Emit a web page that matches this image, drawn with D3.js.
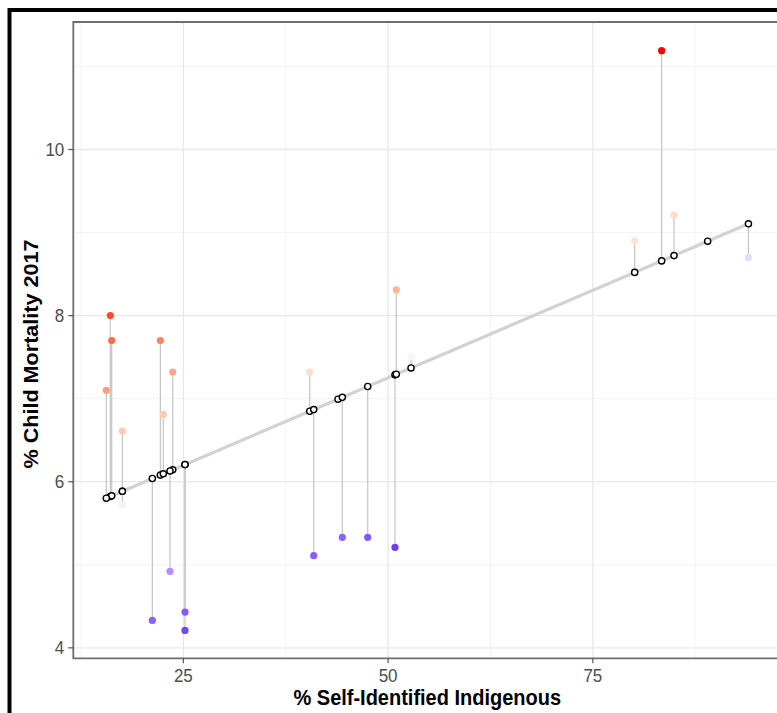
<!DOCTYPE html>
<html>
<head>
<meta charset="utf-8">
<script src="https://cdn.jsdelivr.net/npm/d3@7"></script>
<style>
  html, body { margin: 0; padding: 0; background: #fff; overflow: hidden; }
  svg { display: block; }
  text { font-family: "Liberation Sans", Arial, Helvetica, sans-serif; }
</style>
</head>
<body>
<svg id="chart" width="777" height="713"></svg>
<script>
// % self-identified indigenous (x) and % child mortality 2017 (y)
const pctIndigenous = [16.08, 16.25, 15.59, 17.55, 17.55,
                       22.19, 22.55, 23.70, 23.37, 21.21, 25.20, 25.20,
                       40.43, 40.92, 43.88, 44.41, 47.51, 50.84, 51.00, 52.80,
                       80.11, 83.40, 84.91, 89.02, 94.00];
const childMortality = [8.00, 7.70, 7.10, 6.61, 5.72,
                        7.70, 6.81, 7.32, 4.92, 4.33, 4.43, 4.21,
                        7.32, 5.11, 6.98, 5.33, 5.33, 5.21, 8.31, 7.51,
                        8.90, 11.19, 9.21, 8.90, 8.70];
const xTicks = [25, 50, 75];
const xMinorTicks = [12.5, 37.5, 62.5, 87.5];
const yTicks = [4, 6, 8, 10];
const yMinorTicks = [5, 7, 9, 11];
const xTitle = "% Self-Identified Indigenous";
const yTitle = "% Child Mortality 2017";

const data = pctIndigenous.map((x, i) => ({ x, y: childMortality[i] }));

// least squares fit (geom_smooth method = "lm")
const mx = d3.mean(data, d => d.x), my = d3.mean(data, d => d.y);
const slope = d3.sum(data, d => (d.x - mx) * (d.y - my)) / d3.sum(data, d => (d.x - mx) ** 2);
const intercept = my - slope * mx;
data.forEach(d => { d.fit = intercept + slope * d.x; d.res = d.y - d.fit; });
const M = d3.max(data, d => Math.abs(d.res));

const svg = d3.select("#chart");
const P = { left: 73.3, right: 781.2, top: 22, bottom: 658.3 };

const x = d3.scaleLinear().domain([11.56, 98.0]).range([P.left, P.right]);
const y = d3.scaleLinear().domain([3.874, 11.535]).range([P.bottom, P.top]);
const color = d3.scaleLinear().domain([-M, 0, M]).range(["blue", "white", "red"]).interpolate(d3.interpolateLab);

// outer frame (only the top and left edges fall inside the picture)
svg.append("path").attr("d", "M9.5,800 L9.5,10 L800,10")
  .attr("fill", "none").attr("stroke", "#000").attr("stroke-width", 4);

const g = svg.append("g");
const clip = svg.append("clipPath").attr("id", "clip");
clip.append("rect").attr("x", P.left).attr("y", P.top).attr("width", P.right - P.left).attr("height", P.bottom - P.top);
const panel = g.append("g").attr("clip-path", "url(#clip)");

// grid
panel.selectAll(".xminor").data(xMinorTicks).join("line")
  .attr("x1", d => x(d)).attr("x2", d => x(d)).attr("y1", P.top).attr("y2", P.bottom)
  .attr("stroke", "#f0f0f0").attr("stroke-width", 0.8);
panel.selectAll(".yminor").data(yMinorTicks).join("line")
  .attr("y1", d => y(d)).attr("y2", d => y(d)).attr("x1", P.left).attr("x2", P.right)
  .attr("stroke", "#f0f0f0").attr("stroke-width", 0.8);
panel.selectAll(".xmajor").data(xTicks).join("line")
  .attr("x1", d => x(d)).attr("x2", d => x(d)).attr("y1", P.top).attr("y2", P.bottom)
  .attr("stroke", "#e8e8e8").attr("stroke-width", 1.3);
panel.selectAll(".ymajor").data(yTicks).join("line")
  .attr("y1", d => y(d)).attr("y2", d => y(d)).attr("x1", P.left).attr("x2", P.right)
  .attr("stroke", "#e8e8e8").attr("stroke-width", 1.3);

// residual segments
panel.selectAll(".seg").data(data).join("line")
  .attr("x1", d => x(d.x)).attr("x2", d => x(d.x))
  .attr("y1", d => y(d.y)).attr("y2", d => y(d.fit))
  .attr("stroke", "#c4c4c4").attr("stroke-width", 1.2);

// regression line
const xr = d3.extent(data, d => d.x);
panel.append("line")
  .attr("x1", x(xr[0])).attr("x2", x(xr[1]))
  .attr("y1", y(intercept + slope * xr[0])).attr("y2", y(intercept + slope * xr[1]))
  .attr("stroke", "#d2d2d2").attr("stroke-width", 3.2);

// actual values
panel.selectAll(".dot").data(data).join("circle")
  .attr("cx", d => x(d.x)).attr("cy", d => y(d.y)).attr("r", 3.6)
  .attr("fill", d => color(d.res));

// fitted values
panel.selectAll(".fit").data(data).join("circle")
  .attr("cx", d => x(d.x)).attr("cy", d => y(d.fit)).attr("r", 3.1)
  .attr("fill", "white").attr("stroke", "#000").attr("stroke-width", 1.4);

// panel border (right edge lies outside the picture)
g.append("path")
  .attr("d", `M${P.right + 20},${P.top} L${P.left},${P.top} L${P.left},${P.bottom} L${P.right + 20},${P.bottom}`)
  .attr("fill", "none").attr("stroke", "#6e6e6e").attr("stroke-width", 1.8);

// x axis ticks and labels
g.selectAll(".xt").data(xTicks).join("line")
  .attr("x1", d => x(d)).attr("x2", d => x(d)).attr("y1", P.bottom).attr("y2", P.bottom + 5)
  .attr("stroke", "#555").attr("stroke-width", 1.2);
g.selectAll(".xl").data(xTicks).join("text")
  .attr("transform", d => `translate(${x(d)},682.3) scale(1,1.08)`)
  .attr("text-anchor", "middle").attr("font-size", 17).attr("fill", "#4d4d4d")
  .text(d => d);

// y axis ticks and labels
g.selectAll(".yt").data(yTicks).join("line")
  .attr("y1", d => y(d)).attr("y2", d => y(d)).attr("x1", P.left - 5).attr("x2", P.left)
  .attr("stroke", "#555").attr("stroke-width", 1.2);
g.selectAll(".yl").data(yTicks).join("text")
  .attr("transform", d => `translate(${P.left - 9},${y(d) + 6.5}) scale(1,1.08)`)
  .attr("text-anchor", "end").attr("font-size", 17).attr("fill", "#4d4d4d")
  .text(d => d);

// titles
g.append("text")
  .attr("transform", `translate(${(P.left + P.right) / 2},705) scale(1,1.08)`)
  .attr("text-anchor", "middle").attr("font-size", 20).attr("font-weight", "bold").attr("fill", "#000")
  .text(xTitle);
g.append("text")
  .attr("transform", `translate(38,354) rotate(-90) scale(1.08,1)`)
  .attr("text-anchor", "middle").attr("font-size", 20).attr("font-weight", "bold").attr("fill", "#000")
  .text(yTitle);
</script>
</body>
</html>
